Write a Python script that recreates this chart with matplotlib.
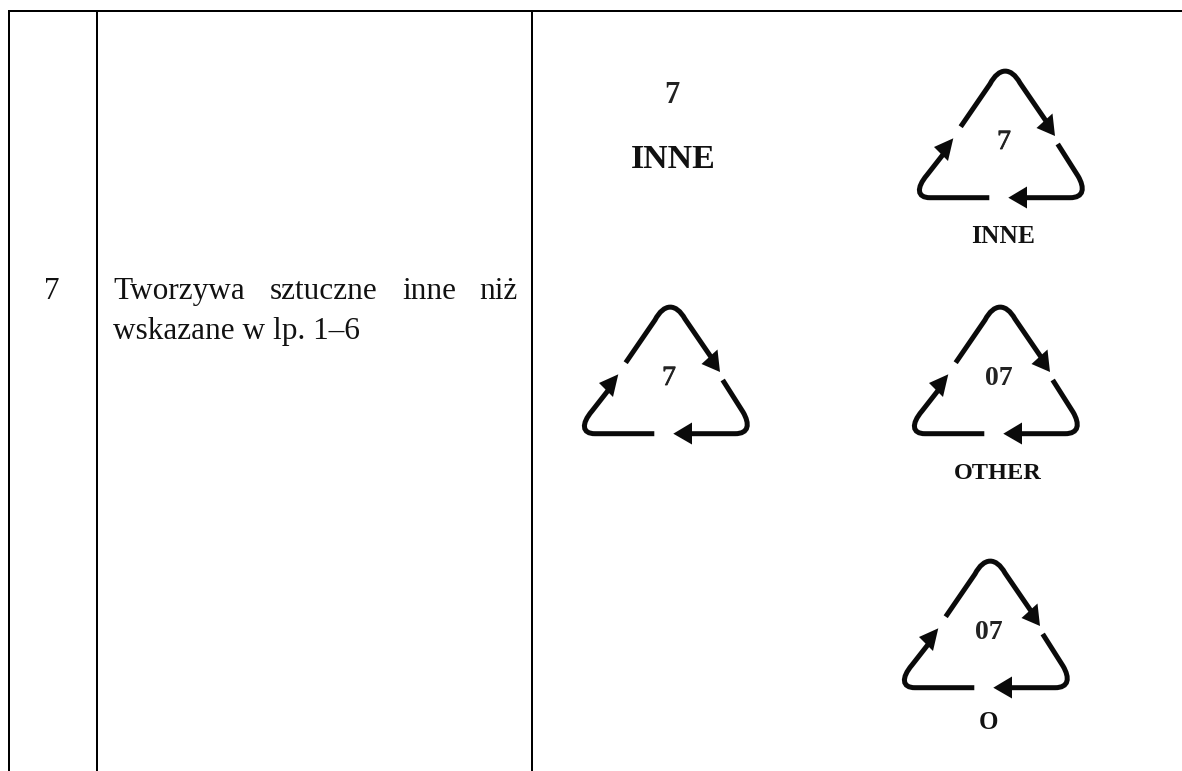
import matplotlib
matplotlib.use("Agg")
import matplotlib.pyplot as plt
import matplotlib.patheffects as pe
from matplotlib.path import Path
from matplotlib.patches import PathPatch, Polygon

row_number = "7"
first_line_words = ["Tworzywa", "sztuczne", "inne", "niż"]
first_line_x = [113, 270, 402, 479]
second_line = "wskazane w lp. 1–6"
column_lines = [8.5, 97, 532]

# apex x, apex y, inner number, number weight, caption, caption size
symbols = [
    (1005, 68, "7", "normal", "INNE", 18.4),
    (670, 304, "7", "normal", None, 0),
    (1000, 304, "07", "bold", "OTHER", 17.5),
    (990, 558, "07", "bold", "O", 18),
]

plt.rcParams["font.family"] = ["Liberation Serif", "DejaVu Serif"]
fig = plt.figure(figsize=(11.82, 7.71), dpi=100)
ax = fig.add_axes([0, 0, 1, 1])
ax.set_xlim(0, 1182)
ax.set_ylim(771, 0)
ax.axis("off")

px = 72 / 100
for x in column_lines:
    ax.plot([x, x], [11, 771], color="black", lw=2 * px, solid_capstyle="butt")
ax.plot([column_lines[0] - 1, 1182], [11, 11], color="black", lw=2 * px, solid_capstyle="butt")

FS = 22.5
ax.text(52, 299, row_number, fontsize=FS, ha="center", va="baseline", color="#111111")
for word, x in zip(first_line_words, first_line_x):
    ax.text(x, 299, word, fontsize=FS, ha="left", va="baseline", color="#111111")
ax.text(113, 339, second_line, fontsize=FS, ha="left", va="baseline", color="#111111")

# Free-standing "7 / INNE" mark
ax.text(672, 103, "7", fontsize=22, fontweight="bold", ha="center", va="baseline", color="#222222")
ax.text(673.5, 168, "INNE", fontsize=24.4, fontweight="bold", ha="center", va="baseline", color="#111111")


def recycling(cx, top, number, weight, caption, cap_size):
    X = lambda v: cx + v
    Y = lambda v: top + v
    lw = 5 * px
    ink = "#0a0a0a"
    codes = [Path.MOVETO, Path.LINETO, Path.CURVE4, Path.CURVE4, Path.CURVE4, Path.LINETO]
    legs = [
        [(X(-44.3), Y(58.7)), (X(-15), Y(16)), (X(-6), Y(-1)), (X(6), Y(-1)), (X(15), Y(15)), (X(41), Y(53))],
        [(X(52.7), Y(76)), (X(73), Y(108)), (X(80), Y(120)), (X(79), Y(129.7)), (X(65), Y(129.7)), (X(16), Y(129.7))],
        [(X(-15.7), Y(129.7)), (X(-75), Y(129.7)), (X(-88), Y(129.7)), (X(-89), Y(120)), (X(-78), Y(107)), (X(-60), Y(84))],
    ]
    for verts in legs:
        ax.add_patch(PathPatch(Path(verts, codes), fc="none", ec=ink, lw=lw, capstyle="butt"))
    heads = [
        [(X(50), Y(68)), (X(31.5), Y(60)), (X(47.5), Y(45.5))],
        [(X(3.3), Y(129.7)), (X(22), Y(118.5)), (X(22), Y(140.5))],
        [(X(-51.7), Y(70.3)), (X(-71), Y(79)), (X(-57), Y(93))],
    ]
    for head in heads:
        ax.add_patch(Polygon(head, closed=True, fc=ink, ec="none"))
    num = ax.text(cx - 1, top + 81, number, fontsize=20, fontweight=weight, ha="center", va="baseline", color="#222222")
    if weight == "normal":
        num.set_path_effects([pe.withStroke(linewidth=0.6, foreground="#222222")])
    if caption:
        base = top + (171 if caption == "O" else 175)
        ax.text(cx - 2, base, caption, fontsize=cap_size, fontweight="bold", ha="center", va="baseline", color="#111111")


for cx, top, number, weight, caption, cap_size in symbols:
    recycling(cx, top, number, weight, caption, cap_size)

fig.savefig("out.png", dpi=100, facecolor="white")
